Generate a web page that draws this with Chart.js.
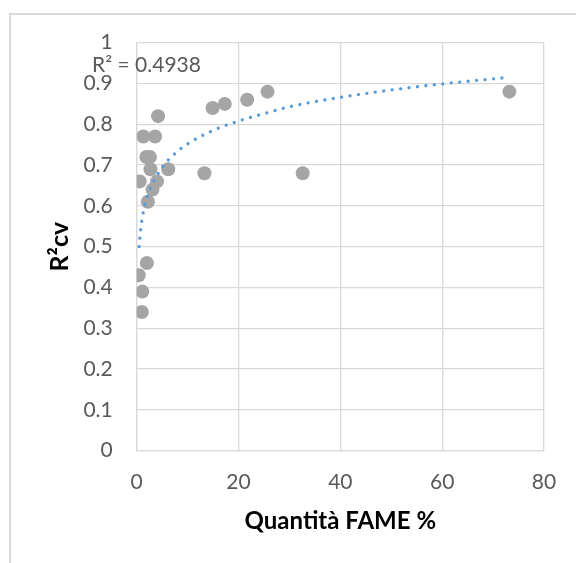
<!DOCTYPE html>
<html>
<head>
<meta charset="utf-8">
<script src="https://cdn.jsdelivr.net/npm/chart.js@4/dist/chart.umd.min.js"></script>
<style>
  html, body { margin: 0; padding: 0; background: #ffffff; overflow: hidden; }
  #wrap { position: relative; width: 576px; height: 563px; }
  #frame { position: absolute; left: 9px; top: 13px; width: 620px; height: 620px; border: 2px solid #d9d9d9; box-sizing: border-box; }
  canvas { position: absolute; left: 0; top: 0; }
</style>
</head>
<body>
<div id="wrap">
  <div id="frame"></div>
  <canvas id="c" width="576" height="563"></canvas>
</div>
<script>
// Scatter data
const fameX = [0.4, 1.0, 1.1, 0.6, 2.0, 1.3, 1.9, 2.6, 2.7, 2.2, 3.1, 3.6, 4.0, 4.2, 6.2, 13.3, 14.9, 17.3, 21.7, 25.7, 32.6, 73.2];
const r2cvY = [0.43, 0.34, 0.39, 0.66, 0.46, 0.77, 0.72, 0.72, 0.69, 0.61, 0.64, 0.77, 0.66, 0.82, 0.69, 0.68, 0.84, 0.85, 0.86, 0.88, 0.68, 0.88];

// Logarithmic trendline, sampled by reading it off the picture
const trendX = [0.48, 0.6, 0.8, 1, 1.5, 2, 3, 4, 5, 7.5, 10, 15, 20, 25, 30, 40, 50, 60, 73];
const trendY = [0.50, 0.52, 0.543, 0.563, 0.598, 0.62, 0.652, 0.675, 0.695, 0.728, 0.752, 0.785, 0.808, 0.826, 0.843, 0.866, 0.884, 0.899, 0.915];

const r2Label = 'R² = 0.4938';
const xTitle = 'Quantità FAME %';
const yTitle = 'R²cv';

const FONT = 'Lato, "Liberation Sans", sans-serif';
const TXT = '#595959';
const GRID = '#d9d9d9';

const labelPlugin = {
  id: 'r2label',
  afterDraw(chart) {
    const ctx = chart.ctx;
    ctx.save();
    ctx.font = '21px ' + FONT;
    ctx.fillStyle = TXT;
    ctx.textAlign = 'left';
    ctx.textBaseline = 'alphabetic';
    ctx.fillText(r2Label, 92, 71.5);
    ctx.restore();
  }
};

new Chart(document.getElementById('c'), {
  type: 'scatter',
  data: {
    datasets: [
      {
        label: 'trend',
        data: trendX.map((x, i) => ({ x: x, y: trendY[i] })),
        showLine: true,
        order: 0,
        borderColor: '#5b9bd5',
        borderWidth: 3.3,
        borderDash: [0.001, 8.5],
        borderCapStyle: 'round',
        cubicInterpolationMode: 'monotone',
        pointRadius: 0,
        pointHoverRadius: 0,
        fill: false
      },
      {
        label: 'data',
        data: fameX.map((x, i) => ({ x: x, y: r2cvY[i] })),
        order: 1,
        backgroundColor: '#a5a5a5',
        borderColor: '#a5a5a5',
        borderWidth: 0,
        pointRadius: 7,
        pointHoverRadius: 7
      }
    ]
  },
  options: {
    responsive: false,
    animation: false,
    events: [],
    layout: { padding: { top: 42.7, right: 32, left: 0, bottom: 0 } },
    plugins: { legend: { display: false }, tooltip: { enabled: false } },
    scales: {
      x: {
        type: 'linear',
        min: 0, max: 80,
        afterFit(scale) { scale.height = 112.3; },
        ticks: { stepSize: 20, padding: 19.4, color: TXT, font: { family: FONT, size: 21 } },
        grid: { color: GRID, lineWidth: 1.3, drawTicks: false },
        border: { color: GRID, width: 1.3 },
        title: { display: true, text: xTitle, color: '#000000', font: { family: FONT, size: 24, weight: 'bold' }, padding: { top: 0, bottom: 26.9 } }
      },
      y: {
        type: 'linear',
        min: 0, max: 1,
        afterFit(scale) { scale.width = 136.7; },
        ticks: {
          stepSize: 0.1, padding: 24, color: TXT, font: { family: FONT, size: 21 },
          callback: (v) => String(Number(v.toFixed(1)))
        },
        grid: { color: GRID, lineWidth: 1.3, drawTicks: false },
        border: { color: GRID, width: 1.3 },
        title: { display: true, text: yTitle, color: '#000000', font: { family: FONT, size: 25, weight: 'bold' }, padding: { top: 45, bottom: 0 } }
      }
    }
  },
  plugins: [labelPlugin]
});
</script>
</body>
</html>
